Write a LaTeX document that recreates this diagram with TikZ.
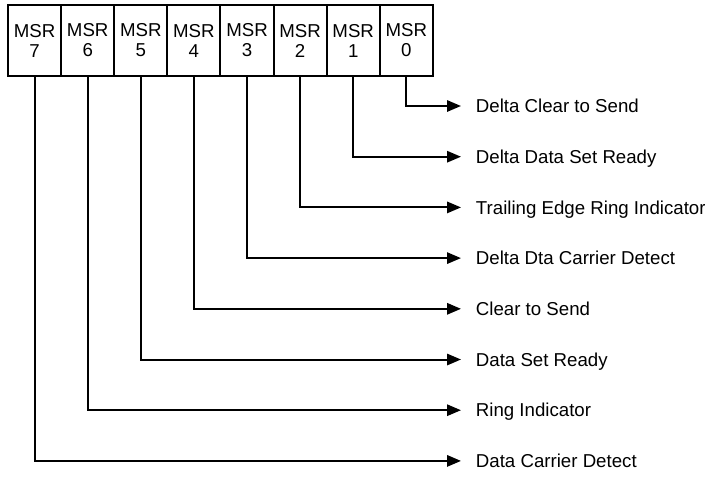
\documentclass[tikz,border=0pt]{standalone}
\usepackage{fontspec}
\setmainfont{Liberation Sans}
\usepackage{tikz}
\usetikzlibrary{arrows.meta}
\tikzset{
  msrbox/.style={draw=black, line width=1.5pt, outer sep=0pt, inner sep=0pt,
    minimum width=39.8pt, minimum height=53.2pt, align=center,
    font=\fontsize{14pt}{15pt}\selectfont},
  lab/.style={anchor=west, outer sep=0pt, inner xsep=11.2pt, inner ysep=0pt,
    text height=10pt, text depth=0pt, font=\fontsize{14pt}{15pt}\selectfont},
  conn/.style={draw=black, line width=1.5pt, line join=miter,
    -{Triangle[length=10.5pt, width=8.5pt]}},
}
\begin{document}
\begin{tikzpicture}[x=0.75pt, y=-0.75pt]
\useasboundingbox (0,0) rectangle (705,476);
% register bits
\foreach \b in {0,...,7}
  \node[msrbox] (msr\b) at ({34.6+53.1*(7-\b)}, 40.5) {MSR\\\b};
% bit meanings
\foreach \b/\txt in {0/Delta Clear to Send, 1/Delta Data Set Ready,
    2/Trailing Edge Ring Indicator, 3/Delta Dta Carrier Detect,
    4/Clear to Send, 5/Data Set Ready, 6/Ring Indicator,
    7/Data Carrier Detect}
  \node[lab] (lab\b) at (461, {106+50.7*\b}) {\txt};
\foreach \b in {0,...,7}
  \draw[conn] (msr\b.south) |- (lab\b.west);
\end{tikzpicture}
\end{document}
